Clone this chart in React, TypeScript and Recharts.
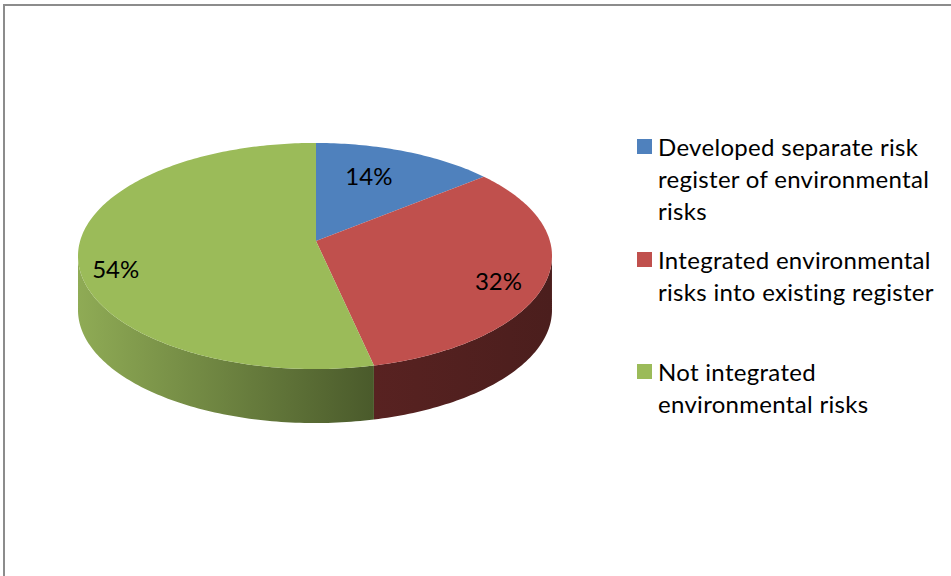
import React from "react";
import { PieChart, Pie, Legend } from "recharts";

const categories = [
  "Developed separate risk register of environmental risks",
  "Integrated environmental risks into existing register",
  "Not integrated environmental risks",
];
const shares = [14, 32, 54];
const legendLines = [
  ["Developed separate risk", "register of environmental", "risks"],
  ["Integrated environmental", "risks into existing register"],
  ["Not integrated", "environmental risks"],
];

const topColors = ["#4f81bd", "#c0504d", "#9bbb59"];
const wallStops = [
  ["#2f4d71", "#2f4d71"],
  ["#4b1e1d", "#582221"],
  ["#8fab55", "#4a5a2b"],
];
const labelShift = [
  [-19, 6],
  [-2, 8],
  [-10, 18],
];

const WIDTH = 951;
const HEIGHT = 576;
const APEX_X = 316;
const APEX_Y = 241;
const RADIUS = 237;
const SQUASH = 0.477;
const DEPTH = 54;

const chartData = categories.map((name, i) => ({ name, value: shares[i] }));

// ray from the apex to the rim of the tilted disc; the apex sits above the rim's centre
const rimPoint = (cx: number, cy: number, r: number, angle: number) => {
  const rx = r;
  const ry = r * SQUASH;
  const ox = 1;
  const oy = -15;
  const base = (90 - angle) * (Math.PI / 180);
  // the 3d view drags angles a little clockwise towards the front
  const theta = base + (1.9 * Math.PI * Math.sin(base / 2)) / 180;
  const dx = rx * Math.sin(theta);
  const dy = -ry * Math.cos(theta);
  const b = 2 * ((ox * dx) / (rx * rx) + (oy * dy) / (ry * ry));
  const c = (ox * ox) / (rx * rx) + (oy * oy) / (ry * ry) - 1;
  const t = (-b + Math.sqrt(b * b - 4 * c)) / 2;
  return { x: cx + dx * t, y: cy + dy * t, front: cy + dy * t >= cy - oy };
};

const Slice3D = (props: any) => {
  const { cx, cy, outerRadius, startAngle, endAngle, index } = props;
  const steps = Math.max(2, Math.ceil(Math.abs(endAngle - startAngle)));
  const rim = [];
  for (let i = 0; i <= steps; i++) {
    rim.push(rimPoint(cx, cy, outerRadius, startAngle + ((endAngle - startAngle) * i) / steps));
  }
  const topPath =
    `M${cx},${cy} ` + rim.map((p) => `L${p.x},${p.y}`).join(" ") + " Z";
  const front = rim.filter((p) => p.front);
  const wallPath =
    front.length > 1
      ? front.map((p, i) => `${i ? "L" : "M"}${p.x},${p.y}`).join(" ") +
        " " +
        [...front].reverse().map((p) => `L${p.x},${p.y + DEPTH}`).join(" ") +
        " Z"
      : null;
  const xs = front.map((p) => p.x);
  const id = `wall-${index}`;
  return (
    <g>
      {wallPath && (
        <>
          <defs>
            <linearGradient
              id={id}
              gradientUnits="userSpaceOnUse"
              x1={Math.min(...xs)}
              x2={Math.max(...xs)}
              y1={0}
              y2={0}
            >
              <stop offset="0" stopColor={wallStops[index][index === 1 ? 1 : 0]} />
              <stop offset="1" stopColor={wallStops[index][index === 1 ? 0 : 1]} />
            </linearGradient>
          </defs>
          <path d={wallPath} fill={`url(#${id})`} />
        </>
      )}
      <path d={topPath} fill={topColors[index]} />
    </g>
  );
};

const renderLabel = (props: any) => {
  const { cx, cy, outerRadius, midAngle, index, value } = props;
  const p = rimPoint(cx, cy, outerRadius, midAngle);
  const x = cx + (p.x - cx) * 0.8 + labelShift[index][0];
  const y = cy + (p.y - cy) * 0.8 + labelShift[index][1];
  return (
    <text x={x} y={y} textAnchor="middle" dominantBaseline="central" fontSize={24} fontFamily="Lato" fill="#000">
      {value}%
    </text>
  );
};

const renderLegend = () => (
  <div style={{ fontFamily: "Lato", fontSize: 24, lineHeight: "32px", letterSpacing: 0.3, color: "#000" }}>
    {legendLines.map((lines, i) => (
      <div key={i} style={{ position: "relative", height: 112.5, paddingLeft: 21, whiteSpace: "nowrap" }}>
        <span
          style={{ position: "absolute", left: 0, top: 8, width: 15, height: 15, background: topColors[i] }}
        />
        {lines.map((line) => (
          <div key={line}>{line}</div>
        ))}
      </div>
    ))}
  </div>
);

export default function App() {
  return (
    <div style={{ position: "absolute", left: 0, top: 0, width: WIDTH, height: HEIGHT, background: "#fff", overflow: "hidden" }}>
      <div
        style={{
          position: "absolute",
          left: 3,
          top: 4,
          right: 0,
          bottom: 0,
          borderTop: "2px solid #8c8c8c",
          borderLeft: "2px solid #8c8c8c",
        }}
      />
      <PieChart width={WIDTH} height={HEIGHT} margin={{ top: 0, right: 0, bottom: 0, left: 0 }}>
        <Pie
          data={chartData}
          dataKey="value"
          nameKey="name"
          cx={APEX_X}
          cy={APEX_Y}
          outerRadius={RADIUS}
          startAngle={90}
          endAngle={-270}
          stroke="none"
          shape={Slice3D}
          label={renderLabel}
          labelLine={false}
          isAnimationActive={false}
        />
        <Legend
          content={renderLegend}
          layout="vertical"
          wrapperStyle={{ left: 637, top: 131, width: 312, bottom: "auto", right: "auto" }}
        />
      </PieChart>
    </div>
  );
}
